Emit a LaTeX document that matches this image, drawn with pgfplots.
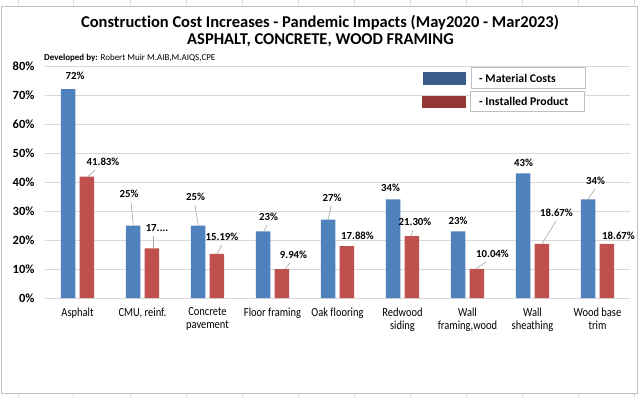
\documentclass[border=0pt]{standalone}
\usepackage{pgfplots}
\pgfplotsset{compat=1.18}
\usepackage{fontspec}
\setmainfont{Carlito}[Ligatures={NoCommon,NoRare,NoContextual}]
\newfontfamily\narrowfont[FakeStretch=0.85,Ligatures={NoCommon,NoRare,NoContextual}]{Carlito}
\definecolor{matblue}{HTML}{4F81BD}
\definecolor{insred}{HTML}{C0504D}
\definecolor{legblue}{HTML}{385D8A}
\definecolor{legred}{HTML}{953735}
\definecolor{gridc}{HTML}{D9D9D9}
\definecolor{framec}{HTML}{BFBFBF}
\definecolor{leadc}{HTML}{A6A6A6}
\pgfplotstableread{
x v
0 72
1 25
2 25
3 23
4 27
5 34
6 23
7 43
8 34
}\material
\pgfplotstableread{
x v
0 41.83
1 17.10
2 15.19
3 9.94
4 17.88
5 21.30
6 10.04
7 18.67
8 18.67
}\installed
\begin{document}
\begin{tikzpicture}
\useasboundingbox (0pt,0pt) rectangle (641pt,-397pt);
\fill[white] (0pt,0pt) rectangle (641pt,-397pt);
% spreadsheet grid around the chart
\foreach \gx in {18,73,130,186,242,298,354,410,466,522,578,634}{
  \draw[gridc, line width=0.6pt] (\gx pt,0pt) -- (\gx pt,-5pt);
  \draw[gridc, line width=0.6pt] (\gx pt,-394pt) -- (\gx pt,-397pt);
}
\draw[framec, line width=0.9pt, fill=white] (1.5pt,-6pt) rectangle (637pt,-393pt);
\begin{axis}[
  at={(45pt,-298pt)}, anchor=south west,
  scale only axis, width=585pt, height=232pt,
  ymin=0, ymax=80, xmin=-0.5, xmax=8.5,
  ytick={0,10,...,80},
  yticklabel={\pgfmathprintnumber{\tick}\%},
  /pgf/number format/assume math mode=true,
  yticklabel style={font=\bfseries\fontsize{12.5}{14}\selectfont, xshift=-7pt},
  xtick={0,...,8},
  xticklabels={Asphalt,{CMU, reinf.},{Concrete\\pavement},{Floor framing},{Oak flooring},{Redwood\\siding},{Wall\\framing,wood},{Wall\\sheathing},{Wood base\\trim}},
  xticklabel style={align=center, font=\narrowfont\fontsize{12.3}{13}\selectfont, yshift=-6pt},
  major tick length=0pt,
  axis line style={draw=none},
  ymajorgrids, grid style={gridc, line width=0.8pt},
  clip=false,
]
\addplot[ybar, bar width=14.5pt, bar shift=-9.3pt, fill=matblue, draw=none] table[x=x,y=v] {\material};
\addplot[ybar, bar width=14.5pt, bar shift=9.3pt, fill=insred, draw=none] table[x=x,y=v] {\installed};
\end{axis}
% titles
\node[font=\bfseries\fontsize{16.5}{20}\selectfont] at (320pt,-22.7pt) {Construction Cost Increases - Pandemic Impacts (May2020 - Mar2023)};
\node[font=\bfseries\fontsize{16.5}{20}\selectfont] at (320.5pt,-40.7pt) {ASPHALT, CONCRETE, WOOD FRAMING};
\node[anchor=west, inner sep=0pt, font=\fontsize{9}{10}\selectfont] at (44pt,-58.3pt) {\textbf{Developed by:} Robert Muir M.AIB,M.AIQS,CPE};
% legend
\fill[legblue] (422.7pt,-72.3pt) rectangle (466pt,-85pt);
\draw[framec, line width=0.8pt, fill=white] (471.7pt,-67.3pt) rectangle (585.7pt,-88.3pt);
\node[anchor=west, font=\bfseries\fontsize{11.8}{13}\selectfont, inner sep=0pt] at (479pt,-78pt) {- Material Costs};
\fill[legred] (421.7pt,-96pt) rectangle (466pt,-108.3pt);
\draw[framec, line width=0.8pt, fill=white] (470pt,-91.7pt) rectangle (584pt,-111.7pt);
\node[anchor=west, font=\bfseries\fontsize{11.8}{13}\selectfont, inner sep=0pt] at (479pt,-101.7pt) {- Installed Product};
% data label leader lines
\begin{scope}[leadc, line width=0.6pt]
\draw (88pt,-176.5pt) -- (95pt,-170pt);
\draw (133.3pt,-225.4pt) -- (131pt,-202pt);
\draw (153pt,-248.3pt) -- (153pt,-236pt);
\draw (198.2pt,-225.4pt) -- (195pt,-205pt);
\draw (217pt,-254pt) -- (222pt,-245pt);
\draw (264pt,-231.2pt) -- (267pt,-225pt);
\draw (285pt,-269.1pt) -- (290pt,-263pt);
\draw (328pt,-219.6pt) -- (331pt,-206pt);
\draw (411pt,-236.1pt) -- (413pt,-230pt);
\draw (476pt,-268.8pt) -- (486pt,-262pt);
\draw (542pt,-243.8pt) -- (556pt,-221pt);
\draw (588pt,-199.3pt) -- (595pt,-189pt);
\end{scope}
% data labels
\begin{scope}[every node/.style={font=\bfseries\fontsize{10.8}{12}\selectfont, inner sep=0pt}]
\node at (75pt,-76pt) {72\%};
\node at (103pt,-161.7pt) {41.83\%};
\node at (129pt,-194pt) {25\%};
\node at (157pt,-227.7pt) {17....};
\node at (195.5pt,-197pt) {25\%};
\node at (222pt,-236.7pt) {15.19\%};
\node at (268.5pt,-216.7pt) {23\%};
\node at (293.5pt,-255pt) {9.94\%};
\node at (332pt,-198pt) {27\%};
\node at (357.5pt,-235.7pt) {17.88\%};
\node at (390.5pt,-188pt) {34\%};
\node at (415pt,-221.7pt) {21.30\%};
\node at (458pt,-220.7pt) {23\%};
\node at (492.5pt,-254pt) {10.04\%};
\node at (523.5pt,-162.7pt) {43\%};
\node at (556.5pt,-213pt) {18.67\%};
\node at (595.5pt,-180.7pt) {34\%};
\node at (618.5pt,-235.7pt) {18.67\%};
\end{scope}
\end{tikzpicture}
\end{document}
